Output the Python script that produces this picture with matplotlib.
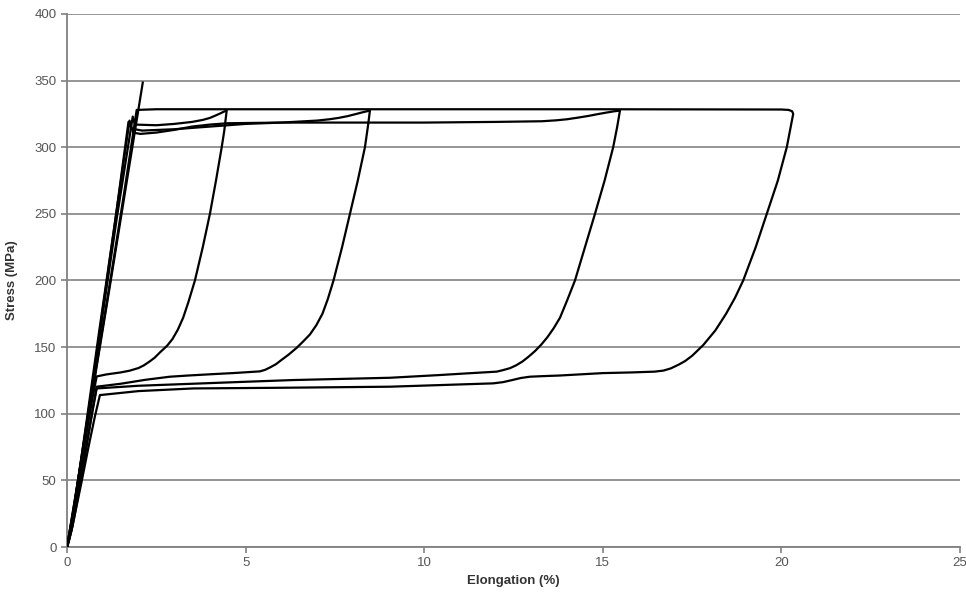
import matplotlib
matplotlib.use("Agg")
import matplotlib.pyplot as plt

plt.rcParams['font.family'] = ['Liberation Sans', 'DejaVu Sans']

# 1st cycle: elastic only
c1_x = [0, 0.6, 1.2, 2.12]
c1_y = [0, 98, 196, 348.5]

# 2nd cycle: up to ~4.5 %
c2_x = [0, 0.15, 0.35, 0.6, 1.0, 1.4, 1.84, 1.9, 2.5, 3.0, 3.5, 3.8, 4.0, 4.15, 4.3, 4.4, 4.47,
        4.4, 4.33, 4.17, 4.0, 3.8, 3.58, 3.4, 3.25, 3.1, 2.95, 2.8, 2.6, 2.45, 2.3, 2.15, 2.0,
        1.75, 1.5, 1.1, 0.83,
        0.7, 0.5, 0.3, 0.1, 0]
c2_y = [0, 22, 58, 102, 175, 248, 323, 317, 316.5, 317.5, 319, 320.5, 322, 323.7, 325.5, 326.8, 327.5,
        312, 300, 275, 250, 225, 200, 184, 172, 163, 156, 151, 146, 142, 139, 136.3, 134.3,
        132.3, 131, 129.5, 128,
        110, 78, 45, 12, 0]

# 3rd cycle: up to ~8.5 %
c3_x = [0, 0.2, 0.4, 0.65, 1.0, 1.35, 1.72, 1.8, 2.1, 3.0, 4.0, 5.0, 6.0, 7.0, 7.35, 7.6, 7.85,
        8.1, 8.3, 8.48,
        8.42, 8.34, 8.14, 7.92, 7.7, 7.46, 7.3, 7.15, 6.98, 6.8, 6.62, 6.43, 6.2, 6.0, 5.85, 5.7,
        5.55, 5.4, 4.7, 4.0, 3.4, 2.88, 2.2, 1.5, 0.83,
        0.72, 0.55, 0.35, 0.15, 0]
c3_y = [0, 30, 65, 110, 178, 245, 319, 314, 312.5, 313.5, 315.5, 317.5, 318.5, 320, 321, 322, 323.3,
        325, 326.4, 327.5,
        315, 300, 275, 250, 225, 200, 186, 175, 166.5, 159.5, 154.5, 149.5, 144.3, 140.3, 137.2, 135,
        133, 131.8, 130.6, 129.6, 128.7, 127.8, 125.5, 122.5, 120.3,
        104, 76, 44, 15, 0]

# 4th cycle: up to ~15.5 %
c4_x = [0, 0.1, 0.3, 0.55, 0.9, 1.3, 1.75, 1.85, 2.05, 2.5, 3.0, 3.5, 4.0, 4.5, 6.0, 8.0, 10.0, 12.0,
        13.3, 13.7, 14.0, 14.3, 14.6, 14.85, 15.1, 15.3, 15.48,
        15.4, 15.29, 15.05, 14.78, 14.5, 14.22, 14.0, 13.8, 13.62, 13.45, 13.28, 13.1, 12.92, 12.75,
        12.57, 12.4, 12.2, 12.03, 11.2, 10.4, 9.04,
        6.34, 5.0, 3.5, 2.0, 0.83,
        0.7, 0.5, 0.3, 0.12, 0]
c4_y = [0, 12, 48, 95, 162, 236, 320, 311, 310, 311, 313, 315.5, 317, 318, 318.5, 318.5, 318.5, 319,
        319.5, 320.2, 321, 322.2, 323.5, 324.8, 326, 326.9, 327.5,
        315, 300, 275, 250, 225, 200, 185, 172, 164, 157.5, 152, 147, 142.8, 139.2,
        136.3, 134.2, 132.7, 131.6, 130.3, 129, 127,
        125.3, 124, 122.5, 121, 119,
        100, 70, 40, 12, 0]

# 5th cycle: up to ~20.3 %
c5_x = [0, 0.25, 0.5, 0.8, 1.2, 1.6, 1.95, 2.5, 5.0, 10.0, 15.0, 20.0, 20.2, 20.3, 20.33,
        20.15, 19.9, 19.59, 19.28, 18.93, 18.7, 18.45, 18.15, 17.81, 17.5, 17.3, 17.12, 16.9, 16.7,
        16.45, 15.8, 15.0, 13.8, 13.3, 12.96, 12.7, 12.45, 12.2, 11.93,
        9.04, 6.0, 3.54, 2.0, 0.92,
        0.78, 0.6, 0.4, 0.2, 0.05, 0]
c5_y = [0, 40, 82, 132, 198, 266, 328, 328.5, 328.5, 328.5, 328.5, 328.3, 328, 327, 325,
        300, 275, 250, 225, 200, 187, 175, 162.5, 151.5, 143.5, 139.5, 136.8, 134, 132.4,
        131.6, 131, 130.5, 128.7, 128.2, 127.8, 126.8, 125.2, 123.7, 122.8,
        120.3, 119.5, 119, 117, 114,
        98, 75, 48, 22, 4, 0]

y_ticks = [0, 50, 100, 150, 200, 250, 300, 350, 400]
x_ticks = [0, 5, 10, 15, 20, 25]

fig = plt.figure(figsize=(9.66, 5.92), dpi=100)
ax = fig.add_axes([0.0694, 0.076, 0.9244, 0.9004])

for xs, ys in [(c1_x, c1_y), (c2_x, c2_y), (c3_x, c3_y), (c4_x, c4_y), (c5_x, c5_y)]:
    ax.plot(xs, ys, color='black', linewidth=1.6, solid_joinstyle='round', zorder=3)

ax.set_xlim(0, 25)
ax.set_ylim(0, 400)
ax.set_xticks(x_ticks)
ax.set_yticks(y_ticks)
ax.yaxis.grid(True, color='#8c8c8c', linewidth=1.3)
ax.set_axisbelow(True)

for s in ['top', 'right']:
    ax.spines[s].set_visible(False)
for s in ['left', 'bottom']:
    ax.spines[s].set_color('#808080')
    ax.spines[s].set_linewidth(1.3)

ax.tick_params(axis='both', colors='#808080', length=4, width=1.2, labelsize=9.5,
               labelcolor='#555555')
ax.set_xlabel('Elongation (%)', fontsize=9.5, fontweight='bold', color='#333333', labelpad=4)
ax.set_ylabel('Stress (MPa)', fontsize=9.5, fontweight='bold', color='#333333', labelpad=12)

plt.savefig('out.png', dpi=100)
